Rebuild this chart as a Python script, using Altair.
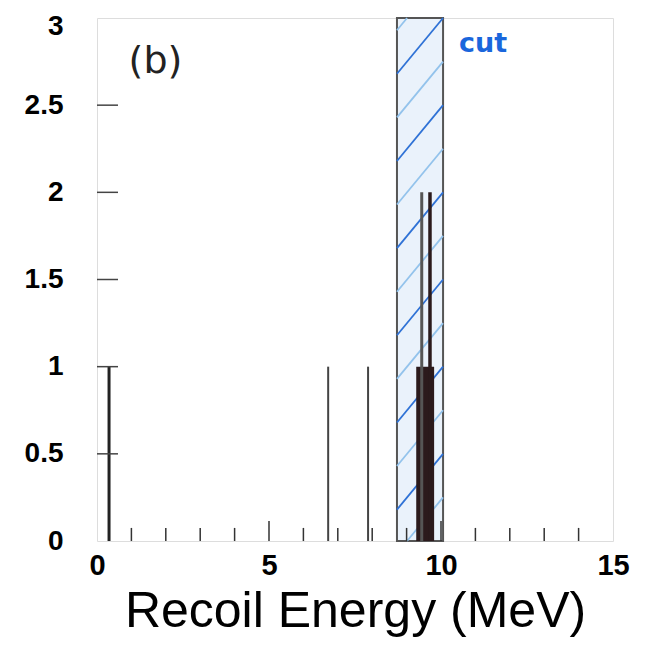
import altair as alt
import pandas as pd

# ---- data ----
spike_x = [0.35, 6.72, 7.88, 9.44, 9.68]
spike_h = [1, 1, 1, 2, 2]
spike_w = [3, 2, 2, 3, 3.5]
spike_c = ["#222222", "#444444", "#444444", "#555555", "#2a1a1c"]

block_x0 = [9.28]
block_x1 = [9.80]
block_h = [1]

cut_lo, cut_hi = 8.72, 10.06

x_ticks = [0, 5, 10, 15]
y_ticks = [0, 0.5, 1, 1.5, 2, 2.5, 3]
x_minor = list(range(1, 15))
y_minor = [0.5, 1, 1.5, 2, 2.5]

W, H = 516, 523
xs = alt.Scale(domain=[0, 15], nice=False, zero=False)
ys = alt.Scale(domain=[0, 3], nice=False, zero=False)

xaxis = alt.Axis(values=x_ticks, labelFont="Liberation Sans", labelFontWeight="bold",
                 labelFontSize=29, labelColor="black", ticks=False, domain=False, grid=False,
                 labelPadding=10, title="Recoil Energy (MeV)", titleFont="Liberation Sans",
                 titleFontSize=50, titleFontWeight="normal", titleColor="black", titlePadding=6,
                 labelFlush=False, format="~g")
yaxis = alt.Axis(values=y_ticks, labelFont="Liberation Sans", labelFontWeight="bold",
                 labelFontSize=28, labelColor="black", ticks=False, domain=False, grid=False,
                 labelPadding=34, title=None, labelFlush=False, format="~g",
                 labelOffset={"condition": {"test": "datum.value >= 3", "value": 8}, "value": 0})

# cut band
band_df = pd.DataFrame({"x0": [cut_lo], "x1": [cut_hi], "y0": [0], "y1": [3]})
band = alt.Chart(band_df).mark_rect(fill="#eaf2fb", stroke="#555555", strokeWidth=2).encode(
    x=alt.X("x0:Q", scale=xs, axis=xaxis), x2="x1:Q",
    y=alt.Y("y0:Q", scale=ys, axis=yaxis), y2="y1:Q")

# hatch lines derived from the band edges
rise = 0.32
step = 0.25
m = rise / (cut_hi - cut_lo)
rows = []
k = 0
y0 = -rise
while y0 < 3:
    xa, ya = cut_lo, y0
    xb, yb = cut_hi, y0 + rise
    if ya < 0:
        xa, ya = cut_lo + (-y0) / m, 0
    if yb > 3:
        xb, yb = cut_lo + (3 - y0) / m, 3
    rows.append({"xa": xa, "ya": ya, "xb": xb, "yb": yb,
                 "c": "#2f72d6" if k % 2 == 0 else "#93c3ec"})
    y0 += step
    k += 1
hatch_df = pd.DataFrame(rows)
hatch = alt.Chart(hatch_df).mark_rule(strokeWidth=1.8).encode(
    x=alt.X("xa:Q", scale=xs), x2="xb:Q",
    y=alt.Y("ya:Q", scale=ys), y2="yb:Q",
    color=alt.Color("c:N", scale=None))

# histogram
block_df = pd.DataFrame({"x0": block_x0, "x1": block_x1, "h": block_h, "b": [0]})
block = alt.Chart(block_df).mark_rect(color="#2b1a1c").encode(
    x=alt.X("x0:Q", scale=xs), x2="x1:Q",
    y=alt.Y("b:Q", scale=ys), y2="h:Q")

spike_df = pd.DataFrame({"x": spike_x, "h": spike_h, "w": spike_w, "c": spike_c, "b": 0})
spikes = alt.Chart(spike_df).mark_rule().encode(
    x=alt.X("x:Q", scale=xs),
    y=alt.Y("b:Q", scale=ys), y2="h:Q",
    strokeWidth=alt.StrokeWidth("w:Q", scale=None),
    color=alt.Color("c:N", scale=None))

# inward ticks
xt_df = pd.DataFrame({"x": x_minor,
                      "l": [0.115 if v % 5 == 0 else 0.075 for v in x_minor], "b": 0})
xt = alt.Chart(xt_df).mark_rule(color="#333333", strokeWidth=1.5).encode(
    x=alt.X("x:Q", scale=xs), y=alt.Y("b:Q", scale=ys), y2="l:Q")
yt_df = pd.DataFrame({"y": y_minor, "a": 0, "l": 0.61})
yt = alt.Chart(yt_df).mark_rule(color="#444444", strokeWidth=1.5).encode(
    x=alt.X("a:Q", scale=xs), x2="l:Q", y=alt.Y("y:Q", scale=ys))

# annotations
lab_b = alt.Chart(pd.DataFrame({"x": [1.7], "y": [2.75], "t": ["(b)"]})).mark_text(
    font="DejaVu Sans", fontSize=38, color="#222222").encode(
    x=alt.X("x:Q", scale=xs), y=alt.Y("y:Q", scale=ys), text="t:N")
lab_cut = alt.Chart(pd.DataFrame({"x": [11.22], "y": [2.85], "t": ["cut"]})).mark_text(
    font="DejaVu Sans", fontSize=27, fontWeight="bold", color="#1a66dc").encode(
    x=alt.X("x:Q", scale=xs), y=alt.Y("y:Q", scale=ys), text="t:N")

chart = alt.layer(band, hatch, block, spikes, xt, yt, lab_b, lab_cut).properties(
    width=W, height=H,
    autosize=alt.AutoSizeParams(type="none"),
    padding={"left": 89, "top": 10, "right": 20, "bottom": 100},
).configure_view(stroke="black", strokeWidth=3, fill="#fbfbfb").configure(background="white")

chart.save("out.html", embed_options={"renderer": "svg", "actions": False})
